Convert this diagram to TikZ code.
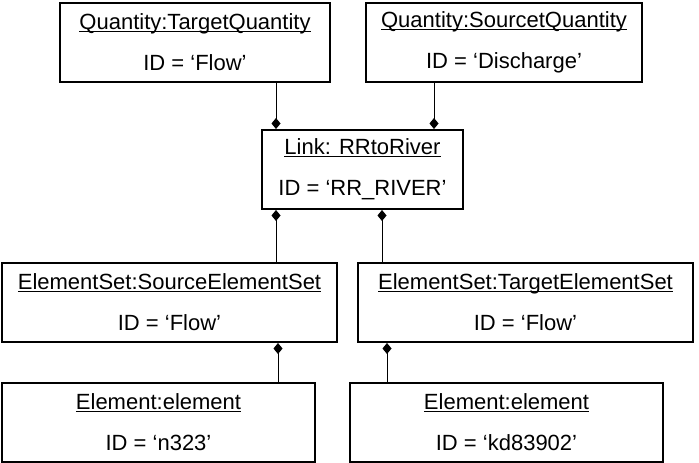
\documentclass[tikz,border=0pt]{standalone}
\usepackage{fontspec}
\setmainfont{Liberation Sans}
\usetikzlibrary{arrows.meta}

\newcommand{\uname}[1]{\underline{\smash{#1}}\vphantom{#1}}

\tikzset{
  obj/.style={draw, line width=2pt, minimum height=79pt, align=center, inner sep=0pt,
    font=\fontsize{22}{26}\selectfont},
  comp/.style={{Diamond[length=11pt,width=9pt]}-, line width=0.8pt},
}

\begin{document}
\begin{tikzpicture}[x=1pt,y=-1pt]
  \useasboundingbox (0,0) rectangle (699,463);
  % quantities
  \node[obj, minimum width=270pt] (tq) at (195,42.5) {\uname{Quantity:TargetQuantity}\\[15pt]ID = ‘Flow’};
  \node[obj, minimum width=276pt] (sq) at (504,42.5) {\uname{Quantity:SourcetQuantity}\\[15pt]ID = ‘Discharge’};
  % link
  \node[obj, minimum width=201pt] (link) at (362.5,169.5) {\uname{Link: RRtoRiver}\\[15pt]ID = ‘RR\_RIVER’};
  % element sets
  \node[obj, minimum width=335pt] (ses) at (169.5,302.5) {\uname{ElementSet:SourceElementSet}\\[15pt]ID = ‘Flow’};
  \node[obj, minimum width=335pt] (tes) at (525.5,302.5) {\uname{ElementSet:TargetElementSet}\\[15pt]ID = ‘Flow’};
  % elements
  \node[obj, minimum width=313pt] (elsrc) at (158.5,422.5) {\uname{Element:element}\\[15pt]ID = ‘n323’};
  \node[obj, minimum width=313pt] (eltgt) at (506.5,422.5) {\uname{Element:element}\\[15pt]ID = ‘kd83902’};
  % connectors, diamond on the owner side
  \draw[comp] ([xshift=15pt]link.north west) -- ([xshift=15pt]link.north west |- tq.south);
  \draw[comp] ([xshift=-30pt]link.north east) -- ([xshift=-30pt]link.north east |- sq.south);
  \draw[comp] ([xshift=15pt]link.south west) -- ([xshift=15pt]link.south west |- ses.north);
  \draw[comp] ([xshift=-82pt]link.south east) -- ([xshift=-82pt]link.south east |- tes.north);
  \draw[comp] ([xshift=-60pt]ses.south east) -- ([xshift=-60pt]ses.south east |- elsrc.north);
  \draw[comp] ([xshift=30pt]tes.south west) -- ([xshift=30pt]tes.south west |- eltgt.north);
\end{tikzpicture}
\end{document}
